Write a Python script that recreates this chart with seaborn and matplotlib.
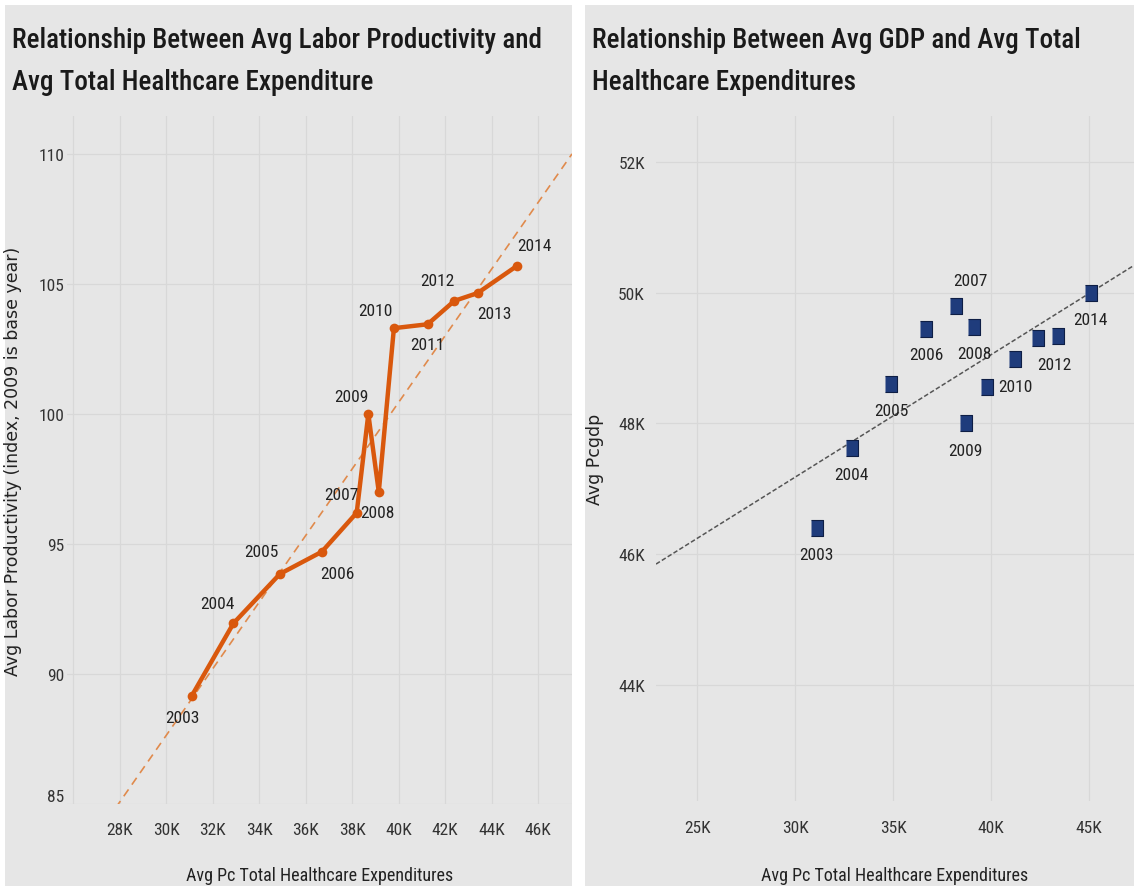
import numpy as np
import pandas as pd
import matplotlib
matplotlib.use("Agg")
import matplotlib.pyplot as plt
from matplotlib.patches import Rectangle
from matplotlib.ticker import FuncFormatter
from matplotlib import font_manager
from matplotlib.font_manager import FontProperties
import seaborn as sns

# data
years = [2003, 2004, 2005, 2006, 2007, 2008, 2009, 2010, 2011, 2012, 2013, 2014]
health_exp = [31100, 32900, 34900, 36700, 38200, 39150, 38700, 39800, 41250, 42400, 43400, 45100]
labor_prod = [89.15, 91.95, 93.85, 94.7, 96.2, 97.0, 100.0, 103.3, 103.45, 104.35, 104.65, 105.7]
pc_gdp = [46410, 47630, 48600, 49450, 49800, 49480, 48000, 48560, 48980, 49300, 49330, 50000]

left_xticks = [26000, 28000, 30000, 32000, 34000, 36000, 38000, 40000, 42000, 44000, 46000]
left_yticks = [85, 90, 95, 100, 105, 110]
right_xticks = [25000, 30000, 35000, 40000, 45000]
right_yticks = [44000, 46000, 48000, 50000, 52000]

df = pd.DataFrame({"year": years, "exp": health_exp, "prod": labor_prod, "gdp": pc_gdp})

# label offsets in pixels (dx, dy), dy positive = up
left_off = {2003: (-9, -21), 2004: (-16, 20), 2005: (-19, 22), 2006: (16, -22),
            2007: (-15, 18), 2008: (-1, -21), 2009: (-17, 17), 2010: (-18, 18),
            2011: (0, -20), 2012: (-17, 20), 2013: (17, -20), 2014: (17, 20)}
right_off = {2003: (0, -27), 2004: (0, -27), 2005: (0, -26), 2006: (0, -26),
             2007: (15, 25), 2008: (0, -27), 2009: (0, -27), 2010: (28, 0),
             2012: (16, -26), 2014: (0, -27)}

sns.set_theme(style="white")
names = {f.name for f in font_manager.fontManager.ttflist}
narrow = next((n for n in ["Roboto Condensed", "Liberation Sans Narrow", "Open Sans Condensed"]
               if n in names), "DejaVu Sans")
plt.rcParams["font.family"] = [narrow, "DejaVu Sans"]

# wide font for the rotated axis titles
wide_path = font_manager.findfont(FontProperties(family="DejaVu Sans"))

BG = "#e6e6e6"
GRID = "#d8d8d8"
TXT = "#333333"

W, H = 1134, 887
fig = plt.figure(figsize=(W / 100, H / 100), dpi=100)
fig.patch.set_facecolor("white")
fig.patches.append(Rectangle((5 / W, 0), (572 - 5) / W, 1 - 6 / H, transform=fig.transFigure,
                             facecolor=BG, edgecolor="none", zorder=-5))
fig.patches.append(Rectangle((585 / W, 0), (W - 585) / W, 1 - 6 / H, transform=fig.transFigure,
                             facecolor=BG, edgecolor="none", zorder=-5))

ax1 = fig.add_axes([67 / W, 1 - 805 / H, (572 - 67) / W, (805 - 117) / H])
ax2 = fig.add_axes([656 / W, 1 - 802 / H, (W - 656) / W, (802 - 117) / H])

kfmt = FuncFormatter(lambda v, p: f"{v / 1000:.0f}K")

for ax in (ax1, ax2):
    ax.set_facecolor(BG)
    for s in ax.spines.values():
        s.set_visible(False)
    ax.grid(True, color=GRID, lw=0.9)
    ax.set_axisbelow(True)
    ax.tick_params(length=0, labelcolor=TXT, labelsize=12.5)

# ---- left chart
ax1.set_xlim(25740, 47460)
ax1.set_ylim(85, 111.46)
ax1.set_xticks(left_xticks)
ax1.set_xticklabels([""] + [f"{v // 1000}K" for v in left_xticks[1:]])
ax1.set_yticks(left_yticks)
ax1.get_yticklabels()[0].set_va("bottom")
ax1.tick_params(axis="x", pad=13)
ax1.tick_params(axis="y", pad=2)

sns.regplot(data=df, x="exp", y="prod", ax=ax1, scatter=False, ci=None, truncate=False,
            line_kws=dict(color="#e08a4c", lw=1.2, ls=(0, (5, 3.5))))
sns.lineplot(data=df, x="exp", y="prod", ax=ax1, sort=True, color="#d9580d", lw=3.2,
             marker="o", markersize=7, markeredgewidth=0)
for yr, xv, yv in zip(years, health_exp, labor_prod):
    dx, dy = left_off[yr]
    ax1.annotate(str(yr), (xv, yv), xytext=(dx, dy), textcoords="offset pixels",
                 ha="center", va="center", fontsize=12.5, color="#222222")

ax1.set_xlabel("Avg Pc Total Healthcare Expenditures", fontsize=13, color="#222222")
ax1.xaxis.set_label_coords(0.5, -0.090)
ax1.set_ylabel("Avg Labor Productivity (index, 2009 is base year)", color="#222222",
               fontproperties=FontProperties(fname=wide_path, size=12.5))
ax1.yaxis.set_label_coords(-0.089, 0.5)

# ---- right chart
ax2.set_xlim(22900, 47300)
ax2.set_ylim(42230, 52700)
ax2.set_xticks(right_xticks)
ax2.set_yticks(right_yticks)
ax2.xaxis.set_major_formatter(kfmt)
ax2.yaxis.set_major_formatter(kfmt)
ax2.tick_params(axis="x", pad=14)
ax2.tick_params(axis="y", pad=8)

sns.regplot(data=df, x="exp", y="gdp", ax=ax2, scatter=False, ci=None, truncate=False,
            line_kws=dict(color="#555555", lw=1.1, ls=(0, (3, 1.5))))
rect = [(-0.8, -1), (0.8, -1), (0.8, 1), (-0.8, 1)]
sns.scatterplot(data=df, x="exp", y="gdp", ax=ax2, marker=rect, s=117,
                color="#1f3c7c", edgecolor="#0e1e45", linewidth=0.8, zorder=3)
for yr, xv, yv in zip(years, health_exp, pc_gdp):
    if yr not in right_off:
        continue
    dx, dy = right_off[yr]
    ax2.annotate(str(yr), (xv, yv), xytext=(dx, dy), textcoords="offset pixels",
                 ha="center", va="center", fontsize=12.5, color="#222222")

ax2.set_xlabel("Avg Pc Total Healthcare Expenditures", fontsize=13, color="#222222")
ax2.xaxis.set_label_coords(0.5, -0.095)
ax2.set_ylabel("Avg Pcgdp", color="#222222",
               fontproperties=FontProperties(fname=wide_path, size=12.5))
ax2.yaxis.set_label_coords(-0.109, 0.5)

# ---- titles
tkw = dict(fontsize=19.5, color="#1a1a1a", va="center", ha="left", fontweight="medium")
fig.text(12 / W, 1 - 40 / H, "Relationship Between Avg Labor Productivity and", **tkw)
fig.text(12 / W, 1 - 82 / H, "Avg Total Healthcare Expenditure", **tkw)
fig.text(592 / W, 1 - 40 / H, "Relationship Between Avg GDP and Avg Total", **tkw)
fig.text(592 / W, 1 - 82 / H, "Healthcare Expenditures", **tkw)

fig.savefig("out.png", dpi=100)
